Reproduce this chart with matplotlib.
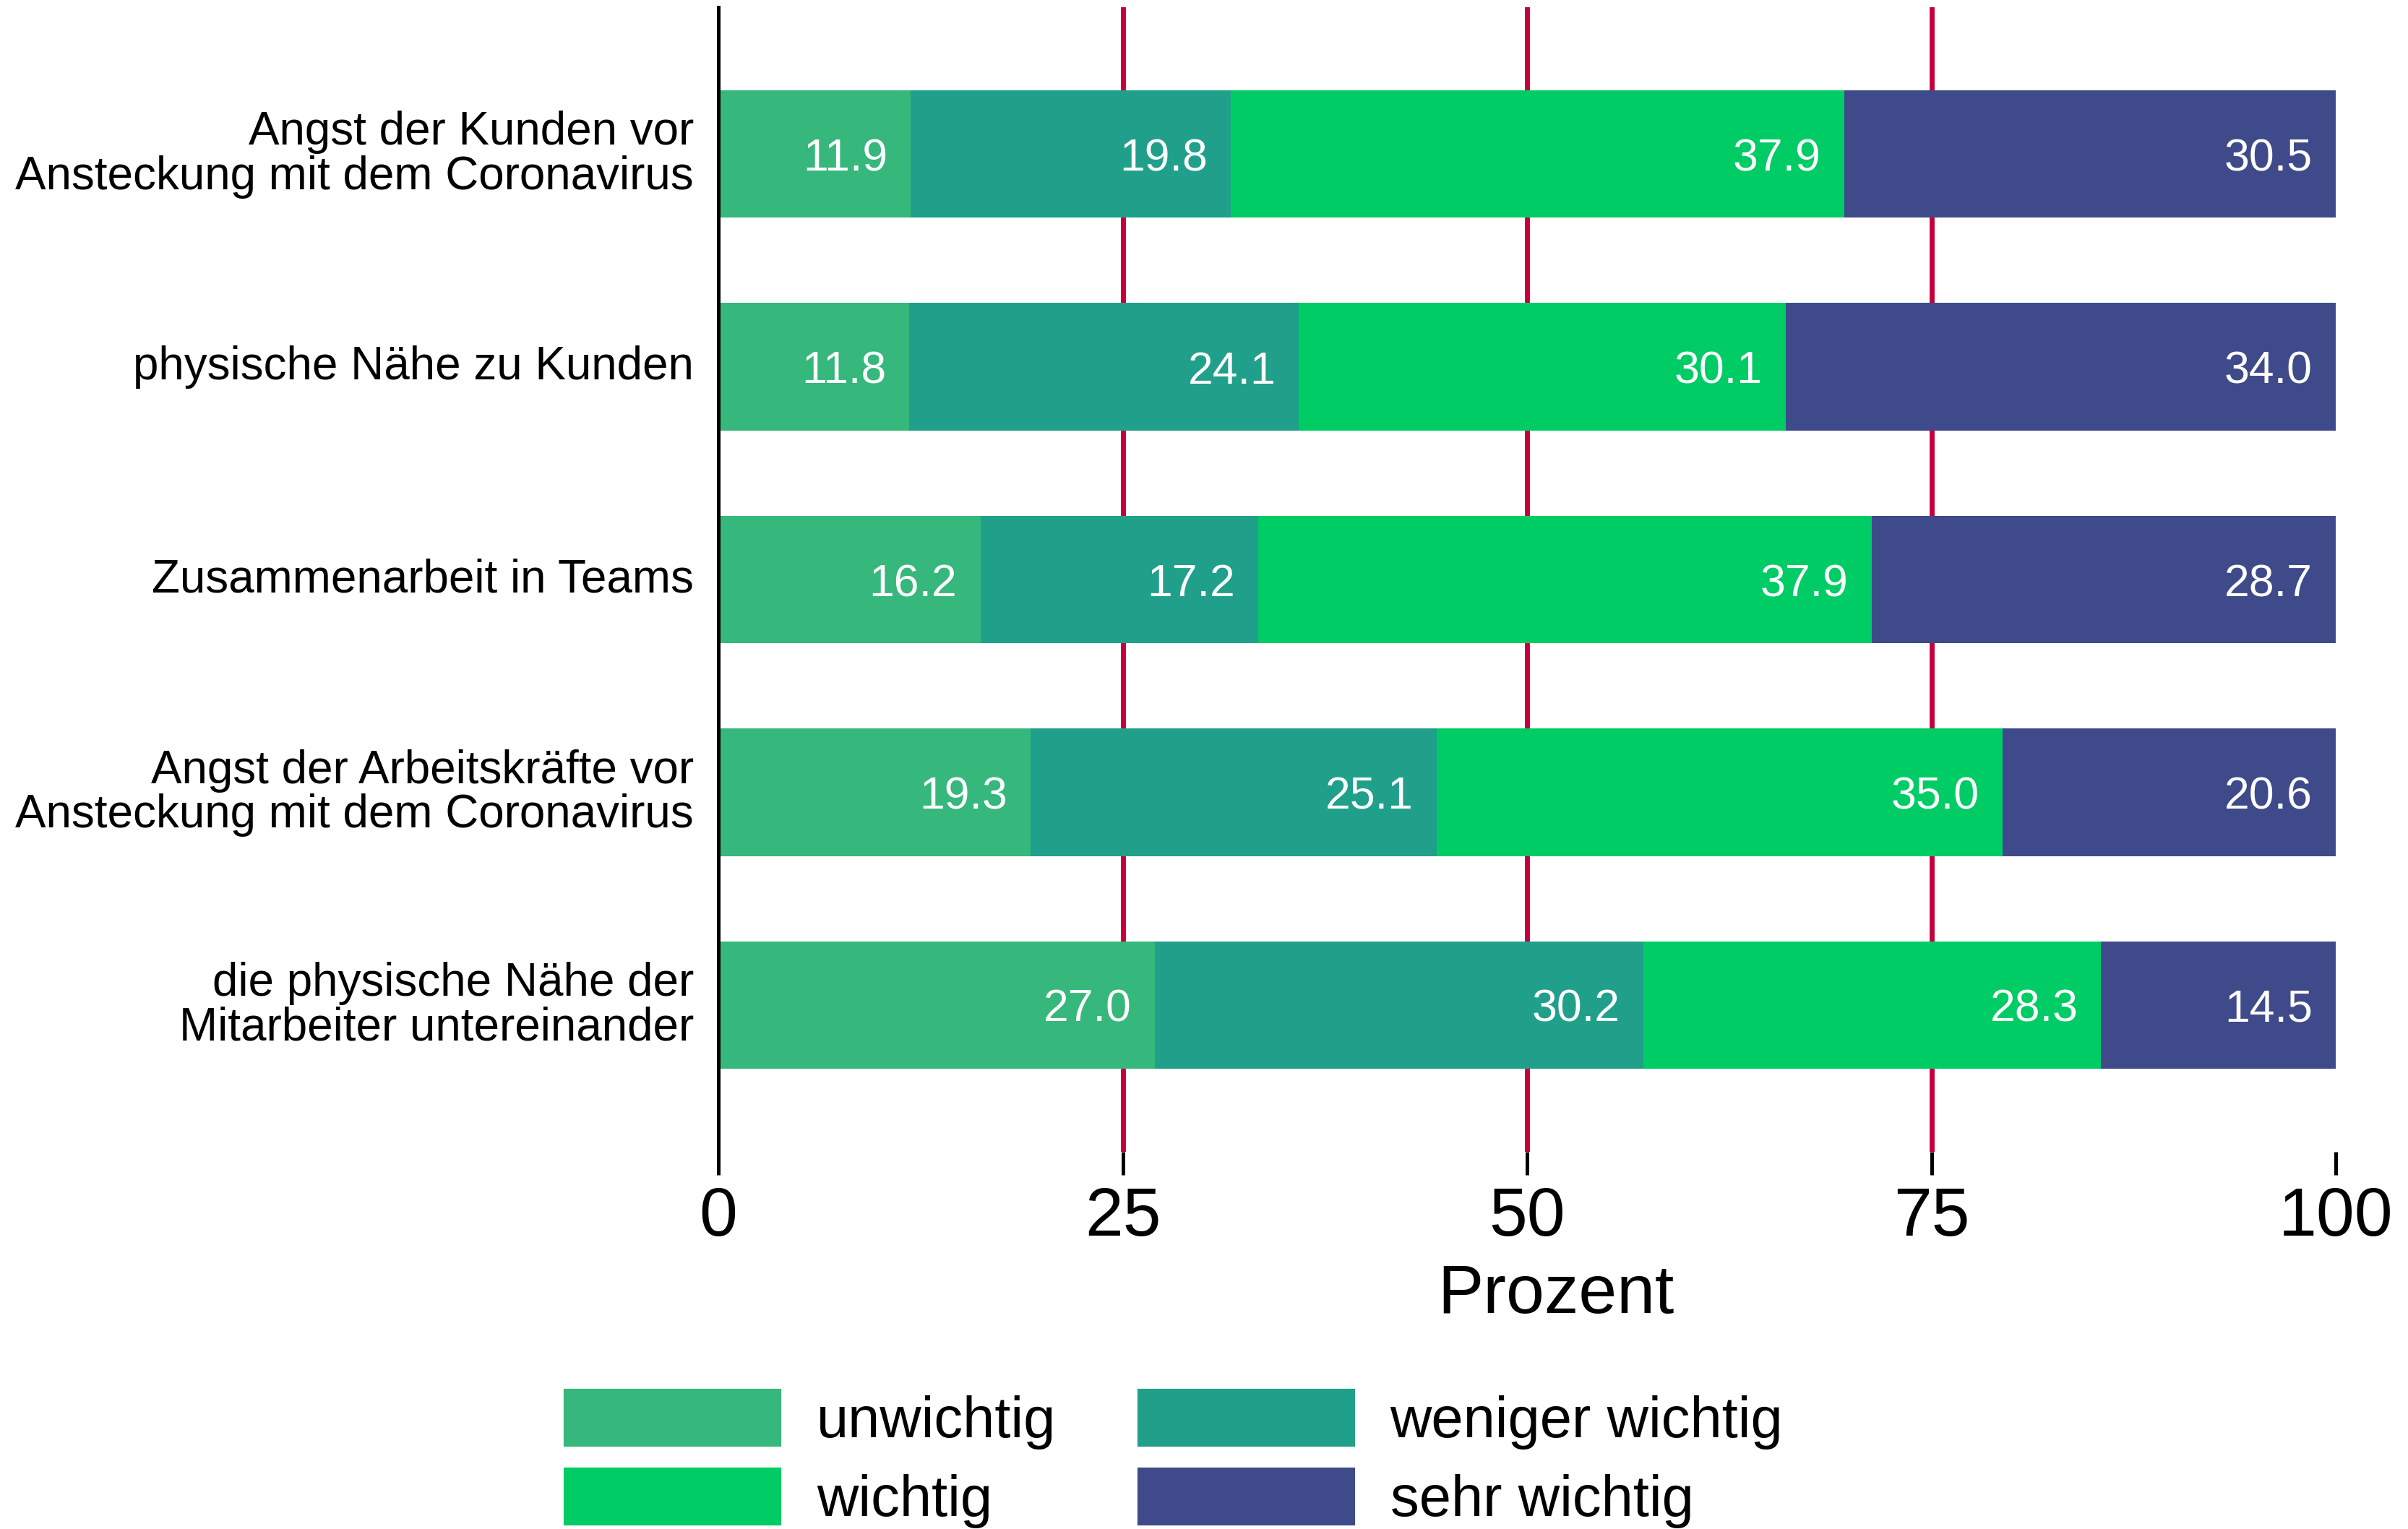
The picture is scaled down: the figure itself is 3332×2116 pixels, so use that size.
import numpy as np
import matplotlib
matplotlib.use("Agg")
import matplotlib.pyplot as plt
from matplotlib.patches import Patch
from matplotlib.transforms import ScaledTranslation

plt.rcParams['font.family'] = ['Liberation Sans', 'DejaVu Sans']

categories = [
    "Angst der Kunden vor\nAnsteckung mit dem Coronavirus",
    "physische Nähe zu Kunden",
    "Zusammenarbeit in Teams",
    "Angst der Arbeitskräfte vor\nAnsteckung mit dem Coronavirus",
    "die physische Nähe der\nMitarbeiter untereinander",
]
levels = ["unwichtig", "weniger wichtig", "wichtig", "sehr wichtig"]
unwichtig = [11.9, 11.8, 16.2, 19.3, 27.0]
weniger_wichtig = [19.8, 24.1, 17.2, 25.1, 30.2]
wichtig = [37.9, 30.1, 37.9, 35.0, 28.3]
sehr_wichtig = [30.5, 34.0, 28.7, 20.6, 14.5]
xticks = [0, 25, 50, 75, 100]

COLORS = ["#36B77B", "#20A08A", "#00CC66", "#3F4A8A"]
GRID_COLOR = "#C4003A"

DPI = 300
fig = plt.figure(figsize=(3332 / DPI, 2116 / DPI), dpi=DPI)
ax = fig.add_axes([994 / 3332, 1 - 1594 / 2116, (3232 - 994) / 3332, (1594 - 10) / 2116])

series = [unwichtig, weniger_wichtig, wichtig, sehr_wichtig]
y = np.arange(len(categories))[::-1]
left = np.zeros(len(categories))

for xv in xticks[1:-1]:
    ax.axvline(xv, color=GRID_COLOR, lw=1.65, zorder=0)

for vals, col, lab in zip(series, COLORS, levels):
    vals = np.array(vals)
    ax.barh(y, vals, left=left, height=0.6, color=col, label=lab, zorder=2)
    for yi, l, v in zip(y, left, vals):
        ax.annotate(f"{v:.1f}", xy=(min(l + v, 100), yi), xytext=(-7.7, 0), textcoords="offset points",
                    ha="right", va="center_baseline", color="white", fontsize=15, zorder=3,
                    annotation_clip=False)
    left = left + vals

ax.set_xlim(0, 100)
ax.set_ylim(-0.69, 4.69)
ax.set_yticks(y)
ax.set_yticklabels(categories, fontsize=15.3, linespacing=1.03)
ax.set_xticks(xticks)
ax.set_xticklabels([str(t) for t in xticks], fontsize=22.8)
ax.tick_params(axis="y", length=0, pad=8.2)
ax.tick_params(axis="x", length=7.7, width=1.2, pad=3.5, direction="out")
ax.set_xlabel("Prozent", fontsize=22.8, labelpad=5)
ax.xaxis.set_label_coords(0.518, -0.097)

# nudge category labels up a little
shift = ScaledTranslation(0, 1.5 / 72, fig.dpi_scale_trans)
for lbl in ax.get_yticklabels():
    lbl.set_transform(lbl.get_transform() + shift)

for s in ["top", "right", "bottom"]:
    ax.spines[s].set_visible(False)
ax.spines["left"].set_linewidth(1.2)
ax.spines["left"].set_zorder(4)

order = [0, 2, 1, 3]
handles = [Patch(color=COLORS[i]) for i in order]
labels = [levels[i] for i in order]
fig.legend(handles, labels, loc="upper left", bbox_to_anchor=(782 / 3332, 1 - 1924 / 2116),
           ncol=2, frameon=False, fontsize=19.1, handlelength=3.73, handleheight=1.1,
           handletextpad=0.64, columnspacing=1.44, labelspacing=0.33, borderpad=0,
           borderaxespad=0)

fig.savefig("out.png", dpi=DPI)
